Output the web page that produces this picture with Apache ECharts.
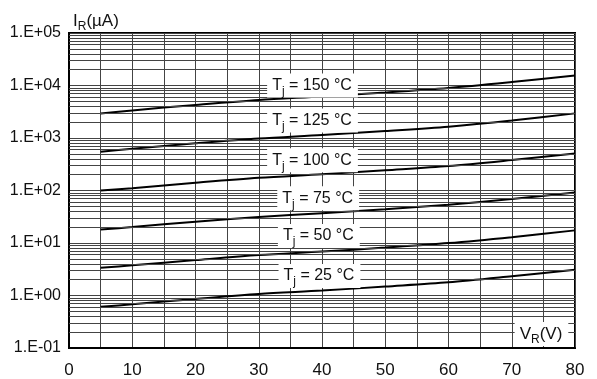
<!DOCTYPE html>
<html>
<head>
<meta charset="utf-8">
<script src="https://cdn.jsdelivr.net/npm/echarts@6/dist/echarts.min.js"></script>
<style>html,body{margin:0;padding:0;background:#fff}#c{width:597px;height:379px}</style>
</head>
<body>
<div id="c"></div>
<script>
const vr = [5, 10, 20, 30, 40, 50, 60, 70, 80];
const tj150 = [2944, 3357, 4266, 5308, 6186, 7363, 8976, 11650, 15480];
const tj125 = [550, 624, 791, 979, 1140, 1358, 1645, 2148, 2944];
const tj100 = [100, 110.6, 140.6, 175, 204, 243, 292, 380, 507];
const tj75 = [18.0, 20.1, 25.5, 31.3, 37.0, 44.1, 53.7, 68.9, 92];
const tj50 = [3.36, 3.75, 4.73, 5.89, 6.86, 8.18, 9.95, 12.9, 17.4];
const tj25 = [0.61, 0.68, 0.86, 1.07, 1.24, 1.48, 1.78, 2.32, 3.08];
const tempLabels = ['150', '125', '100', '75', '50', '25'];
const yTickLabels = ['1.E-01', '1.E+00', '1.E+01', '1.E+02', '1.E+03', '1.E+04', '1.E+05'];
const xTickLabels = ['0', '10', '20', '30', '40', '50', '60', '70', '80'];

// label anchor positions (data coords)
const labelAnchors = [[38.5, 10000], [38.5, 2150], [38.5, 375], [39.4, 71], [39.5, 13.6], [39.6, 2.35]];
const vrAnchor = [74.7, 0.185];

const FONT = 'Liberation Sans, Arial, sans-serif';
const TXT = '#111';

const minorMult = [2, 3, 4, 5, 6, 7, 8, 9];
const minorLines = [];
for (let e = -1; e <= 4; e++) for (const m of minorMult) minorLines.push({ yAxis: m * Math.pow(10, e) });

const rich = {
  t: { fontSize: 16, fontFamily: FONT, color: TXT, lineHeight: 24, verticalAlign: 'middle' },
  s: { fontSize: 12, fontFamily: FONT, color: TXT, lineHeight: 4, verticalAlign: 'bottom' }
};
const richName = {
  t: { fontSize: 17, fontFamily: FONT, color: TXT, lineHeight: 24, verticalAlign: 'middle' },
  s: { fontSize: 12, fontFamily: FONT, color: TXT, lineHeight: 4, verticalAlign: 'bottom' }
};

const allSeries = [tj150, tj125, tj100, tj75, tj50, tj25];
const series = [{
  type: 'line', data: [], z: 1, silent: true,
  markLine: {
    silent: true, symbol: 'none', animation: false,
    label: { show: false },
    lineStyle: { color: '#444', width: 1, type: 'solid' },
    data: minorLines
  }
}];
allSeries.forEach((arr, i) => {
  const s = {
    type: 'line',
    data: vr.map((x, j) => [x, arr[j]]),
    showSymbol: false,
    smooth: 0.3,
    lineStyle: { color: '#000', width: 2 },
    z: 3,
    markPoint: {
      symbol: 'rect', symbolSize: 0, animation: false,
      data: [{
        coord: labelAnchors[i],
        label: {
          show: true, position: 'inside',
          formatter: '{t|T}{s|j}{t| = ' + tempLabels[i] + ' °C}',
          rich: rich, backgroundColor: '#fff', padding: [0, 6, 0, 5]
        }
      }]
    }
  };
  if (i === allSeries.length - 1) {
    s.markPoint.data.push({
      coord: vrAnchor,
      label: {
        show: true, position: 'inside',
        formatter: '{t|V}{s|R}{t|(V)}',
        rich: richName, backgroundColor: '#fff', padding: [0, 6, 0, 5]
      }
    });
  }
  series.push(s);
});

const chart = echarts.init(document.getElementById('c'), null, { renderer: 'canvas' });
chart.setOption({
  animation: false,
  backgroundColor: '#fff',
  grid: { left: 69, right: 22, top: 33, bottom: 30, show: true, borderColor: '#000', borderWidth: 2, backgroundColor: 'transparent' },
  xAxis: {
    type: 'value', min: 0, max: 80, interval: 10,
    axisLine: { show: true, lineStyle: { color: '#000', width: 2 } },
    axisTick: { show: false },
    axisLabel: { fontSize: 17, fontFamily: FONT, color: TXT, margin: 14, formatter: v => xTickLabels[Math.round(v / 10)] },
    splitLine: { show: true, lineStyle: { color: '#444', width: 1 } },
    minorTick: { show: false, splitNumber: 2 },
    minorSplitLine: { show: true, lineStyle: { color: '#444', width: 1 } }
  },
  yAxis: {
    type: 'log', logBase: 10, min: 0.1, max: 100000,
    name: '{t|I}{s|R}{t|(µA)}',
    nameLocation: 'end', nameGap: 0,
    nameTextStyle: { align: 'left', verticalAlign: 'bottom', padding: [0, 0, 0, 4], rich: richName },
    axisLine: { show: true, lineStyle: { color: '#000', width: 2 } },
    axisTick: { show: false },
    axisLabel: { fontSize: 16, fontFamily: FONT, color: TXT, margin: 8, padding: [3, 0, 0, 0],
      formatter: v => yTickLabels[Math.round(Math.log10(v)) + 1] },
    splitLine: { show: true, lineStyle: { color: '#444', width: 1 } }
  },
  series: series
});
</script>
</body>
</html>
